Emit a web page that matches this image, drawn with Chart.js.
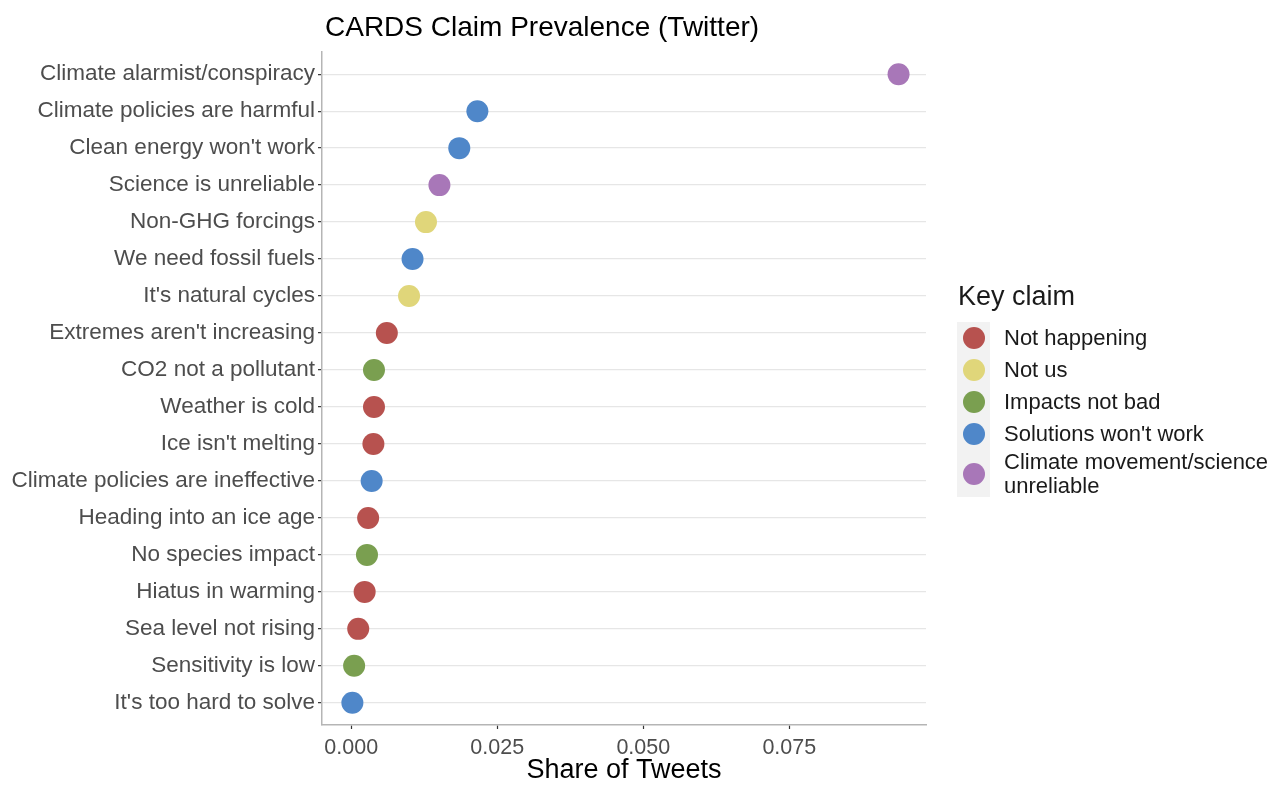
<!DOCTYPE html>
<html>
<head>
<meta charset="utf-8">
<title>CARDS Claim Prevalence (Twitter)</title>
<script src="https://cdn.jsdelivr.net/npm/chart.js@4.4.1/dist/chart.umd.min.js"></script>
<style>
  body { margin: 0; background: #fff; font-family: "Liberation Sans", Arial, sans-serif; }
  #wrap { position: relative; width: 1278px; height: 786px; }
  #legend { position: absolute; left: 957px; top: 280px; color: #1a1a1a; }
  #legend .ttl { font-size: 27px; line-height: 32px; margin-left: 1px; height: 42px; }
  #legend .row { display: flex; align-items: center; height: 32px; }
  #legend .row.tall { height: 47px; }
  #legend .key { width: 33px; height: 100%; background: #f2f2f2; display: flex; align-items: center; justify-content: center; }
  #legend .dot { width: 22px; height: 22px; border-radius: 50%; }
  #legend .lab { font-size: 22px; line-height: 24px; margin-left: 14px; }
</style>
</head>
<body>
<div id="wrap">
  <canvas id="chart" width="1278" height="786"></canvas>
  <div id="legend"></div>
</div>
<script>
// claims, top to bottom
const claims = ['Climate alarmist/conspiracy', 'Climate policies are harmful', "Clean energy won't work",
  'Science is unreliable', 'Non-GHG forcings', 'We need fossil fuels', "It's natural cycles",
  "Extremes aren't increasing", 'CO2 not a pollutant', 'Weather is cold', "Ice isn't melting",
  'Climate policies are ineffective', 'Heading into an ice age', 'No species impact',
  'Hiatus in warming', 'Sea level not rising', 'Sensitivity is low', "It's too hard to solve"]
const shares = [0.0937, 0.0216, 0.0185, 0.0151, 0.0128, 0.0105, 0.0099, 0.0061, 0.0039, 0.0039,
  0.0038, 0.0035, 0.0029, 0.0027, 0.0023, 0.0012, 0.0005, 0.0002]
// index into keyClaims for every claim
const claimGroup = [4, 3, 3, 4, 1, 3, 1, 0, 2, 0, 0, 3, 0, 2, 0, 0, 2, 3]
const keyClaims = ['Not happening', 'Not us', 'Impacts not bad', "Solutions won't work", 'Climate movement/science unreliable']
const keyColors = ['#b7524f', '#e0d67a', '#7a9f50', '#4f87c9', '#a877b8']
const xTicks = [0, 0.025, 0.05, 0.075]

const FONT = '"Liberation Sans", Arial, sans-serif'

// one dataset per key claim so colours follow the groups
var datasets = keyClaims.map((g, k) => {
  var pts = []
  claims.forEach((c, i) => {
    if (claimGroup[i] == k) pts.push({ x: shares[i], y: i + 1 })
  })
  return {
    label: g,
    data: pts,
    backgroundColor: keyColors[k],
    borderWidth: 0,
    pointRadius: 11,
    pointHoverRadius: 11
  }
})

// title drawn at the left edge of the panel
const titlePlugin = {
  id: 'topTitle',
  afterDraw(chart) {
    const ctx = chart.ctx
    ctx.save()
    ctx.font = '28px ' + FONT
    ctx.fillStyle = '#000'
    ctx.textBaseline = 'middle'
    ctx.textAlign = 'left'
    ctx.fillText('CARDS Claim Prevalence (Twitter)', 325, 28)
    ctx.restore()
  }
}

const ctx = document.getElementById('chart').getContext('2d')
new Chart(ctx, {
  type: 'scatter',
  data: { datasets: datasets },
  options: {
    responsive: false,
    animation: false,
    events: [],
    layout: { padding: { left: 0, right: 352, top: 52, bottom: 0 } },
    plugins: { legend: { display: false }, tooltip: { enabled: false } },
    scales: {
      x: {
        type: 'linear',
        min: -0.005,
        max: 0.0984,
        afterBuildTicks: s => { s.ticks = xTicks.map(v => ({ value: v })) },
        afterFit: s => { s.height = 61 },
        border: { display: true, color: '#b5b5b5', width: 1.5 },
        grid: { drawOnChartArea: false, drawTicks: true, tickLength: 4, tickColor: '#333', tickWidth: 1.2 },
        ticks: {
          padding: 6,
          color: '#4d4d4d',
          font: { family: FONT, size: 21.5 },
          callback: v => v.toFixed(3)
        },
        title: {
          display: true,
          text: 'Share of Tweets',
          color: '#000',
          font: { family: FONT, size: 27, lineHeight: 1 },
          padding: { top: 0, bottom: 2 }
        }
      },
      y: {
        type: 'linear',
        reverse: true,
        min: 0.4,
        max: claims.length + 0.6,
        afterBuildTicks: s => { s.ticks = claims.map((c, i) => ({ value: i + 1 })) },
        afterFit: s => { s.width = 322 },
        border: { display: true, color: '#b5b5b5', width: 1.5 },
        grid: { color: '#e6e6e6', lineWidth: 1.3, drawTicks: true, tickLength: 4, tickColor: '#333', tickWidth: 1.2 },
        ticks: {
          padding: 3,
          color: '#4d4d4d',
          font: { family: FONT, size: 22.5 },
          callback: v => claims[v - 1]
        }
      }
    }
  },
  plugins: [titlePlugin]
})

// legend built from the same groups
var leg = document.getElementById('legend')
leg.innerHTML = '<div class="ttl">Key claim</div>'
keyClaims.forEach((g, k) => {
  var row = document.createElement('div')
  row.className = 'row' + (k == 4 ? ' tall' : '')
  var text = k == 4 ? 'Climate movement/science<br>unreliable' : g
  row.innerHTML = `<div class="key"><div class="dot" style="background:${keyColors[k]}"></div></div><div class="lab">${text}</div>`
  leg.appendChild(row)
})
</script>
</body>
</html>
